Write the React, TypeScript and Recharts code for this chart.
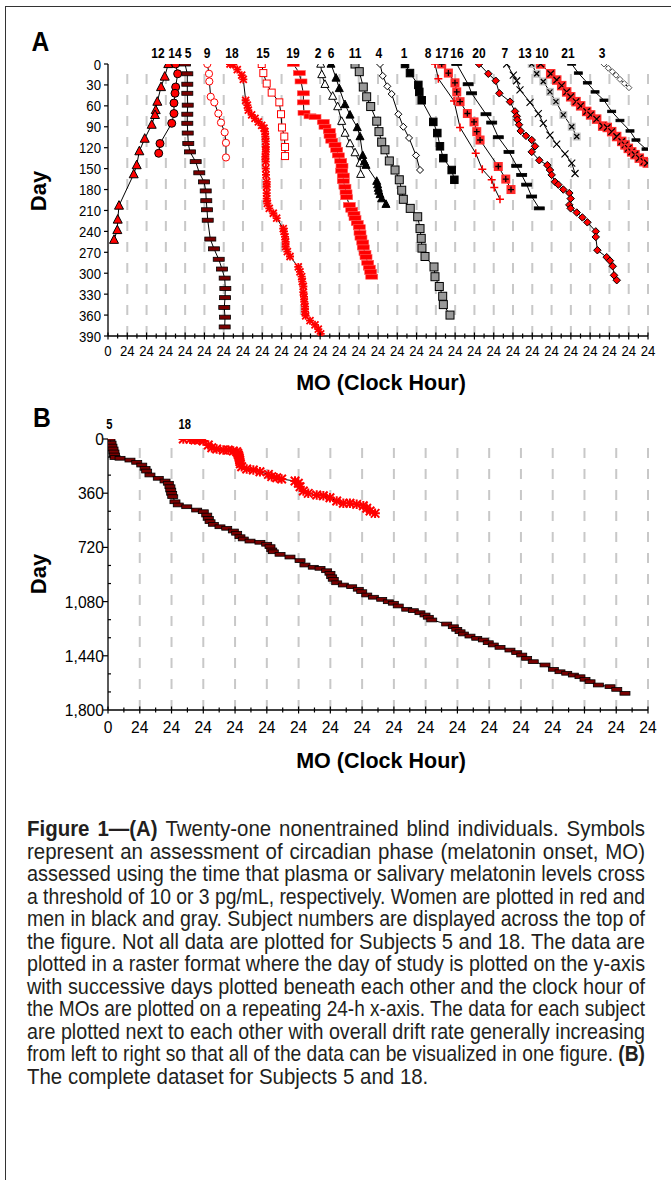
import React, { useLayoutEffect, useRef, useState } from "react";
import { ScatterChart, Scatter, XAxis, YAxis, ReferenceLine } from "recharts";

type Pt = [number, number];

// Panel A: [position on the repeating 24 h axis (28 x 24 h), study day]
const s12: Pt[] = [[75.0,0],[70.6,18],[66.0,33],[61.4,54],[59.4,66],[58.5,73],[54.4,87],[45.7,107],[39.0,125],[35.7,145],[32.0,158],[13.7,203],[12.1,223],[11.6,238],[7.5,252]];
const s14: Pt[] = [[84.2,0],[86.7,14],[84.2,33],[83.4,42],[82.1,56],[82.1,71],[79.3,85],[64.7,114],[63.1,128]];
const s5a: Pt[] = [[95.8,0],[98.7,14],[98.7,29],[98.7,42],[99.2,59],[98.7,72],[98.7,85],[99.2,99],[99.9,114],[102,126],[109.1,140],[113.6,156],[119.5,169],[121.6,182],[122.3,196],[123.2,209],[124.1,224],[127.3,251],[131.9,265],[137.8,280],[141.9,294],[145.2,307],[146,322],[145.6,335],[144.7,349],[145.6,363],[145.2,377]];
const s9: Pt[] = [[123.6,0],[125.7,14],[126.1,25],[127.8,47],[132.3,55],[137.3,71],[140.6,84],[145.2,98],[146.8,113],[146.8,134]];
const s18a: Pt[] = [[151.8,0],[155.9,1],[160.9,8],[166.4,16],[168.4,22],[171.3,52],[173.4,59],[174.6,66],[178.8,73],[182.9,78],[187.1,83],[191.3,88],[194.1,92],[195.4,97],[195.8,104],[196.3,111],[196.3,119],[196.3,126],[195.8,133],[196.3,140],[196.3,150],[196.6,159],[197.5,169],[197.5,176],[197.5,185],[197.5,193],[198.3,200],[200.7,207],[205.7,214],[209.9,221],[218.1,236],[219,240],[220.3,248],[221.1,255],[221.1,262],[223.2,269],[226.5,276],[236.8,291],[238.9,298],[241,305],[241.8,312],[243.1,319],[243.1,327],[243.9,334],[244.3,341],[245.2,348],[245.2,355],[246,361],[251.4,368],[257.6,374],[261.7,380],[264.7,387]];
const s15: Pt[] = [[191.3,0],[193.3,13],[197.5,28],[203.7,41],[213.2,55],[215.3,72],[216.5,91],[219.4,104],[220.3,119],[220.3,132]];
const s19: Pt[] = [[230.6,0],[238.1,13],[240.2,25],[243.1,42],[243.1,55],[243.9,70],[251.4,75],[257.6,76],[267.9,83],[270,90],[275.4,96],[276.3,103],[278.4,110],[282.5,116],[284.6,123],[286.6,131],[289.6,139],[291.2,146],[290.8,153],[292.8,160],[292.8,168],[294.9,176],[296.2,184],[297,191],[300.3,202],[303.3,209],[306.1,215],[307.4,221],[310.2,228],[312.7,234],[313.6,242],[314.8,249],[317,256],[317.7,263],[319.8,271],[321.1,277],[323.2,285],[325.2,292],[326.9,298],[328.2,305]];
const s2: Pt[] = [[264.7,0],[266,15],[270,29],[279.6,46],[285.8,61],[290.8,82],[295,99],[301.2,114],[307.4,127],[313.6,142],[314.4,158]];
const s6: Pt[] = [[277.5,0],[283.7,20],[287.8,35],[294.9,58],[301.2,73],[310.2,91],[313.6,104],[317,131],[319,140],[321.1,145],[334.4,168],[335.5,173],[336.3,178],[337,182],[338.5,187],[340.6,193],[345.9,201]];
const s11: Pt[] = [[307.4,0],[312.7,11],[317.7,33],[321.9,47],[326.9,61],[334.4,82],[337.2,97],[340.6,112],[344.7,123],[350.1,139],[357.2,152],[362.5,166],[365.5,181],[367.5,194],[376.1,207],[385.4,219],[388.3,236],[389.8,250],[390.7,264],[394.5,276],[405.7,291],[406.9,305],[412.3,319],[416.5,333],[417.3,345],[425.6,360]];
const s4: Pt[] = [[338.5,0],[341.9,17],[347.6,32],[353,43],[361.3,72],[367.5,90],[374.6,106],[383.3,131],[388.3,152]];
const s1: Pt[] = [[369.6,0],[375.8,13],[386.2,30],[387.4,40],[390.4,52],[404.8,83],[409.8,99],[413.1,118],[417.3,135],[427.7,152],[431,166]];
const s8: Pt[] = [[406.9,0],[411.1,21],[430.6,53],[438.1,91],[457.6,128],[465.8,151],[477.5,166],[480.7,177],[487.8,194]];
const s17: Pt[] = [[415.3,0],[423.6,13],[431.8,27],[434,40],[438.1,54],[447.2,71],[455.5,83],[458.9,97],[463,109],[485.7,147],[495,165],[501.5,180]];
const s16: Pt[] = [[434,0],[448.2,29],[452.5,42],[470.4,72],[477.5,84],[485.7,105],[499,126],[508.6,146],[514.8,159],[521,173],[527.2,190],[536.7,207]];
const s20: Pt[] = [[461.7,0],[473.3,14],[482.5,24],[487,42],[500.3,54],[506.5,68],[508.6,75],[509.4,80],[511.5,87],[513.6,96],[520.2,103],[527.3,109],[531.4,118],[527.3,126],[536.7,138],[546.7,145],[550,152],[552.1,159],[556.3,169],[560.4,173],[566.6,180],[574.1,185],[575.8,193],[574.1,202],[575.8,207],[583.3,213],[590.3,220],[596.5,227],[607,240],[607,248],[609,267],[620.6,277],[624.7,282],[628.1,290],[629.7,303],[633.1,310]];
const s7: Pt[] = [[496.2,0],[504.4,16],[508.6,24],[512.7,37],[525.2,55],[535.5,71],[541.7,85],[550,102],[558.4,115],[568.7,129],[577.1,142],[581.2,157]];
const s13: Pt[] = [[527.3,0],[533.5,14],[541.7,25],[550,40],[557.4,54],[566.6,73],[577.1,90],[583.3,104]];
const s10: Pt[] = [[538.5,0],[550.9,14],[558.4,23],[564.6,31],[570.8,40],[575.8,47],[582.4,54],[588.2,60],[595.7,68],[600.6,73],[608.1,79],[615.6,89],[621.3,91],[626.8,97],[633,104],[639.3,111],[643.4,116],[647.5,121],[651.7,126],[655.8,130],[661.2,135],[667,140],[671.2,142]];
const s21: Pt[] = [[577,0],[585.3,13],[596.5,27],[606.1,40],[617.2,52],[626.8,68],[637.1,81],[649.6,96],[657,109],[669.5,122]];
const s3: Pt[] = [[617.2,0],[622.6,6],[627.6,11],[632.2,16],[637.1,22],[642.5,28],[648.3,34]];

const subjectsA = ["12","14","5","9","18","15","19","2","6","11","4","1","8","17","16","20","7","13","10","21","3"];
const subjectHoursA = [62.2,83.4,99.6,123.2,154.3,192.9,230.2,261.3,277.5,307.4,337.2,368.4,398.2,415.6,434.3,461.7,494,518.9,540.1,572.4,614.8];
const dayTicksA = [0,30,60,90,120,150,180,210,240,270,300,330,360,390];

// Panel B: complete data for subjects 5 and 18 (17 x 24 h)
const s5b: Pt[] = [[1.5,0],[2.3,27],[3.0,47],[3.8,66],[4.5,86],[4.9,106],[5.3,123],[9.1,128],[16.6,140],[21.7,155],[25.5,173],[28,195],[29.2,213],[31.7,239],[38,261],[43.1,279],[45.6,294],[46.8,317],[47.4,339],[48.1,361],[48.9,383],[50.6,417],[53.1,438],[59.5,450],[67,472],[72,483],[74.6,505],[75.8,527],[77.1,549],[79.6,567],[84.6,583],[89.7,593],[94.7,611],[97.2,626],[99.7,649],[102.2,664],[107.3,678],[114.8,686],[119.9,699],[122.4,715],[123.7,737],[124.9,749],[130,766],[137.5,784],[145.1,808],[148.8,837],[155.1,852],[160.2,859],[165.2,875],[167.7,892],[169,915],[170.2,932],[172.8,955],[177.8,970],[184.1,981],[189.1,998],[191.7,1014],[195.5,1036],[200.5,1051],[206.8,1065],[211.8,1081],[215.6,1091],[219.3,1109],[225.7,1131],[230.7,1140],[235.7,1154],[239.5,1169],[242,1184],[244.6,1202],[255.9,1229],[260.9,1247],[263.5,1264],[266,1280],[268.5,1295],[273.5,1309],[278.6,1324],[283.6,1335],[287.3,1353],[291.1,1368],[296.2,1384],[303.7,1402],[308.8,1419],[312.6,1435],[316.3,1457],[321.3,1479],[330.2,1501],[336.5,1530],[341.5,1546],[346.6,1556],[351.6,1568],[356.6,1579],[360.4,1596],[364.2,1612],[370.5,1634],[379.3,1645],[384.4,1663],[390.6,1689]];
const s18b: Pt[] = [[56.9,0],[62,2],[65.7,7],[69.5,4],[72,13],[75.8,40],[78.4,58],[82.1,66],[87.1,73],[90.9,73],[94.7,80],[97.2,84],[98,95],[98.5,106],[99,117],[99.2,128],[99.5,140],[99.7,151],[100,165],[101,184],[104.8,199],[109.8,206],[114.8,217],[121.2,235],[123.7,250],[127.5,257],[131.2,266],[141.3,279],[143.8,294],[145.1,317],[147.6,345],[151.3,361],[157.7,372],[162.7,377],[167.7,390],[172.8,412],[177.8,427],[182.8,427],[187.9,434],[192.9,443],[195.5,460],[198,478],[201.8,494]];

const subjectsB = ["5","18"];
const subjectHoursB = [1,58];
const dayTicksB = [0,120,240,360,480,600,720,840,960,1080,1200,1320,1440,1560,1680,1800];

const FONT = "'Liberation Sans', Arial, sans-serif";
const RED = "#ff0000";

type SP = { cx?: number; cy?: number };

const tri = (fill: string, stroke: string, s: number) => ({ cx = 0, cy = 0 }: SP) => (
  <polygon points={`${cx},${cy - s * 0.55} ${cx - s / 2},${cy + s * 0.4} ${cx + s / 2},${cy + s * 0.4}`} fill={fill} stroke={stroke} strokeWidth={1} />
);
const circ = (fill: string, stroke: string, r: number) => ({ cx = 0, cy = 0 }: SP) => (
  <circle cx={cx} cy={cy} r={r} fill={fill} stroke={stroke} strokeWidth={1} />
);
const bar = (fill: string, stroke: string, w: number, h: number, sw = 0.8) => ({ cx = 0, cy = 0 }: SP) => (
  <rect x={cx - w / 2} y={cy - h / 2} width={w} height={h} fill={fill} stroke={stroke} strokeWidth={sw} />
);
const sq = (fill: string, stroke: string, s: number) => ({ cx = 0, cy = 0 }: SP) => (
  <rect x={cx - s / 2} y={cy - s / 2} width={s} height={s} fill={fill} stroke={stroke} strokeWidth={1} />
);
const dia = (fill: string, stroke: string, s: number) => ({ cx = 0, cy = 0 }: SP) => (
  <polygon points={`${cx},${cy - s / 2} ${cx + s / 2},${cy} ${cx},${cy + s / 2} ${cx - s / 2},${cy}`} fill={fill} stroke={stroke} strokeWidth={1} />
);
const xs = (cx: number, cy: number, h: number, color: string, sw: number) => (
  <path d={`M${cx - h},${cy - h}L${cx + h},${cy + h}M${cx - h},${cy + h}L${cx + h},${cy - h}`} stroke={color} strokeWidth={sw} fill="none" />
);
const ps = (cx: number, cy: number, h: number, color: string, sw: number) => (
  <path d={`M${cx - h},${cy}L${cx + h},${cy}M${cx},${cy - h}L${cx},${cy + h}`} stroke={color} strokeWidth={sw} fill="none" />
);
const cross = (color: string, s: number, sw: number) => ({ cx = 0, cy = 0 }: SP) => xs(cx, cy, s / 2, color, sw);
const plus = (color: string, s: number, sw: number) => ({ cx = 0, cy = 0 }: SP) => ps(cx, cy, s / 2, color, sw);
const star = (color: string, s: number, sw: number) => ({ cx = 0, cy = 0 }: SP) => (
  <g>{xs(cx, cy, s / 2, color, sw)}{ps(cx, cy, s / 2 + 0.5, color, sw)}</g>
);
const sqPlus = (fill: string, s: number) => ({ cx = 0, cy = 0 }: SP) => (
  <g><rect x={cx - s / 2} y={cy - s / 2} width={s} height={s} fill={fill} />{ps(cx, cy, s / 2 - 1.5, "#000", 1.3)}</g>
);
const sqX = (fill: string, s: number, mark: string) => ({ cx = 0, cy = 0 }: SP) => (
  <g><rect x={cx - s / 2} y={cy - s / 2} width={s} height={s} fill={fill} />{xs(cx, cy, s / 2 - 1.5, mark, 1.3)}</g>
);

const seriesA = [
  { data: s12, shape: tri(RED, "#000", 9) },
  { data: s14, shape: circ(RED, "#000", 4) },
  { data: s5a, shape: bar("#7a0000", "#000", 11, 4) },
  { data: s9, shape: circ("#fff", RED, 3.6) },
  { data: s18a, shape: star(RED, 7, 1.8) },
  { data: s15, shape: sq("#fff", RED, 7) },
  { data: s19, shape: bar(RED, "#ff5a5a", 12, 5, 0.6) },
  { data: s2, shape: tri("#fff", "#000", 8) },
  { data: s6, shape: tri("#000", "#000", 8) },
  { data: s11, shape: sq("#999", "#000", 8) },
  { data: s4, shape: dia("#fff", "#000", 7) },
  { data: s1, shape: sq("#000", "#000", 7.5) },
  { data: s8, shape: plus(RED, 8, 1.5) },
  { data: s17, shape: sqPlus("#ff2a2a", 9) },
  { data: s16, shape: bar("#000", "#000", 10, 3) },
  { data: s20, shape: dia(RED, "#000", 7.5) },
  { data: s7, shape: cross("#000", 7, 1.1) },
  { data: s13, shape: sqX("#c4c4c4", 8, "#000") },
  { data: s10, shape: sqX("#ff2a2a", 9.5, "#000") },
  { data: s21, shape: bar("#000", "#000", 8, 2.5) },
  { data: s3, shape: dia("#fff", "#555", 6) },
];

const seriesB = [
  { data: s5b, shape: bar("#7a0000", "#000", 10, 3.8) },
  { data: s18b, shape: star(RED, 8.5, 2) },
];

const toRows = (pts: Pt[]) => pts.map(([x, y]) => ({ x, y }));

const hourTick = (size: number, k: number, dy: number) => (p: any) => {
  const { x, y, payload } = p;
  const v = payload.value as number;
  const major = v % 24 === 0;
  return (
    <g>
      <line x1={x} x2={x} y1={y - (major ? 3.5 : 2.5)} y2={y + (major ? 3.5 : 2.5)} stroke="#000" strokeWidth={1.2} />
      {major && (
        <text transform={`translate(${x},${y + dy}) scale(${k},1)`} textAnchor="middle" fontSize={size} fontFamily={FONT} fill="#000">
          {v === 0 ? "0" : "24"}
        </text>
      )}
    </g>
  );
};

const dayTickA = (p: any) => {
  const { x, y, payload } = p;
  return (
    <g>
      <line x1={x - 4} x2={x} y1={y} y2={y} stroke="#000" strokeWidth={1.2} />
      <text transform={`translate(${x - 7},${y + 5.5}) scale(0.85,1)`} textAnchor="end" fontSize={15.5} fontFamily={FONT} fill="#000">
        {payload.value}
      </text>
    </g>
  );
};

const dayTickB = (p: any) => {
  const { x, y, payload } = p;
  const v = payload.value as number;
  if (v % 360 !== 0) return <line x1={x} x2={x + 3} y1={y} y2={y} stroke="#000" strokeWidth={1.2} />;
  return (
    <g>
      <line x1={x - 5} x2={x} y1={y} y2={y} stroke="#000" strokeWidth={1.2} />
      <text transform={`translate(${x - 4},${y + 6}) scale(0.92,1)`} textAnchor="end" fontSize={17} fontFamily={FONT} fill="#000">
        {v.toLocaleString("en-US")}
      </text>
    </g>
  );
};

const hoursA = [0,12,24,36,48,60,72,84,96,108,120,132,144,156,168,180,192,204,216,228,240,252,264,276,288,300,312,324,336,348,360,372,384,396,408,420,432,444,456,468,480,492,504,516,528,540,552,564,576,588,600,612,624,636,648,660,672];
const hoursB = hoursA.filter((h) => h <= 408);

// subject numbers above a panel, placed with the same linear map as the x axis
function Names({ names, hours, xMax, y, size }: any) {
  return (
    <>
      {names.map((n: string, i: number) => (
        <text key={n} transform={`translate(${108 + (hours[i] / xMax) * 540},${y}) scale(0.8,1)`} textAnchor="middle" fontSize={size} fontWeight={700}>
          {n}
        </text>
      ))}
    </>
  );
}

function Panel({ top, height, margin, xMax, yMax, hours, yTicks, yTick, xTick, series, dash }: any) {
  const grid = hours.filter((h: number) => h > 0 && h % 24 === 0);
  return (
    <div style={{ position: "absolute", left: 0, top }}>
      <ScatterChart width={671} height={height} margin={margin}>
        <XAxis dataKey="x" type="number" domain={[0, xMax]} ticks={hours} interval={0} tickSize={0} tickMargin={0} tickLine={false} axisLine={{ stroke: "#000", strokeWidth: 1.3 }} tick={xTick} height={30} allowDataOverflow />
        <YAxis dataKey="y" type="number" domain={[0, yMax]} reversed ticks={yTicks} interval={0} tickSize={0} tickMargin={0} tickLine={false} axisLine={{ stroke: "#000", strokeWidth: 1.3 }} tick={yTick} width={40} allowDataOverflow />
        {grid.map((h: number) => (
          <ReferenceLine key={h} x={h} stroke="#c8c8c8" strokeWidth={2} strokeDasharray={dash} />
        ))}
        {series.map((s: any, i: number) => (
          <Scatter key={i} data={toRows(s.data)} shape={s.shape} line={{ stroke: "#000", strokeWidth: 1 }} lineType="joint" isAnimationActive={false} />
        ))}
      </ScatterChart>
    </div>
  );
}

const captionLines = [
  "Twenty-one nonentrained blind individuals. Symbols",
  "represent an assessment of circadian phase (melatonin onset, MO)",
  "assessed using the time that plasma or salivary melatonin levels cross",
  "a threshold of 10 or 3 pg/mL, respectively. Women are plotted in red and",
  "men in black and gray. Subject numbers are displayed across the top of",
  "the figure. Not all data are plotted for Subjects 5 and 18. The data are",
  "plotted in a raster format where the day of study is plotted on the y-axis",
  "with successive days plotted beneath each other and the clock hour of",
  "the MOs are plotted on a repeating 24-h x-axis. The data for each subject",
  "are plotted next to each other with overall drift rate generally increasing",
  "from left to right so that all of the data can be visualized in one figure.",
  "The complete dataset for Subjects 5 and 18.",
];

const CAP_K = 0.93;
const CAP_W = 618;

// one justified caption line: widen the word gaps when the line is short, squeeze it when long
function CaptionLine({ i, y }: { i: number; y: number }) {
  const ref = useRef<SVGTextElement>(null);
  const [ws, setWs] = useState(0);
  const [fit, setFit] = useState(false);
  const last = i === captionLines.length - 1;
  useLayoutEffect(() => {
    const el = ref.current;
    if (!el || last) return;
    const len = el.getComputedTextLength();
    const target = CAP_W / CAP_K;
    const gaps = (el.textContent || "").trim().split(/\s+/).length - 1;
    if (len <= target && gaps > 0) setWs((target - len) / gaps);
    else setFit(true);
  }, [last]);
  return (
    <text
      ref={ref}
      transform={`translate(27,${y}) scale(${CAP_K},1)`}
      fontSize={22}
      fill="#231f20"
      style={{ wordSpacing: ws }}
      textLength={fit ? CAP_W / CAP_K : undefined}
      lengthAdjust={fit ? "spacingAndGlyphs" : undefined}
    >
      {i === 0 && <tspan fontWeight={700}>Figure 1—(A) </tspan>}
      {captionLines[i]}
      {i === 10 && <tspan fontWeight={700}> (B)</tspan>}
    </text>
  );
}

export default function App() {
  return (
    <div style={{ position: "absolute", left: 0, top: 0, width: 671, height: 1180, overflow: "hidden", background: "#fff" }}>
      <div style={{ position: "absolute", left: 5, top: 6, width: 720, height: 1220, border: "1.5px solid #333" }} />
      <Panel
        top={0} height={400} margin={{ top: 64, right: 23, bottom: 34, left: 68 }}
        xMax={672} yMax={390} hours={hoursA} yTicks={dayTicksA} yTick={dayTickA} xTick={hourTick(15.5, 0.85, 20)}
        series={seriesA} dash="10 11"
      />
      <Panel
        top={380} height={370} margin={{ top: 59, right: 23, bottom: 10, left: 68 }}
        xMax={408} yMax={1800} hours={hoursB} yTicks={dayTicksB} yTick={dayTickB} xTick={hourTick(17, 0.92, 23)}
        series={seriesB} dash="10 11"
      />
      <svg width={671} height={1180} style={{ position: "absolute", left: 0, top: 0, pointerEvents: "none" }} fontFamily={FONT}>
        <Names names={subjectsA} hours={subjectHoursA} xMax={672} y={57.5} size={15} />
        <Names names={subjectsB} hours={subjectHoursB} xMax={408} y={429} size={14} />
        <text transform="translate(31.5,50.7) scale(0.88,1)" fontSize={28} fontWeight={700}>A</text>
        <text transform="translate(33,427) scale(0.88,1)" fontSize={28} fontWeight={700}>B</text>
        <text transform="translate(46,191) rotate(-90)" textAnchor="middle" fontSize={22} fontWeight={700}>Day</text>
        <text transform="translate(46,574) rotate(-90)" textAnchor="middle" fontSize={22} fontWeight={700}>Day</text>
        <text x={381} y={390} textAnchor="middle" fontSize={21.5} fontWeight={700}>MO (Clock Hour)</text>
        <text x={381} y={768} textAnchor="middle" fontSize={21.5} fontWeight={700}>MO (Clock Hour)</text>
        {captionLines.map((_, i) => (
          <CaptionLine key={i} i={i} y={836 + i * 22.5} />
        ))}
      </svg>
    </div>
  );
}
